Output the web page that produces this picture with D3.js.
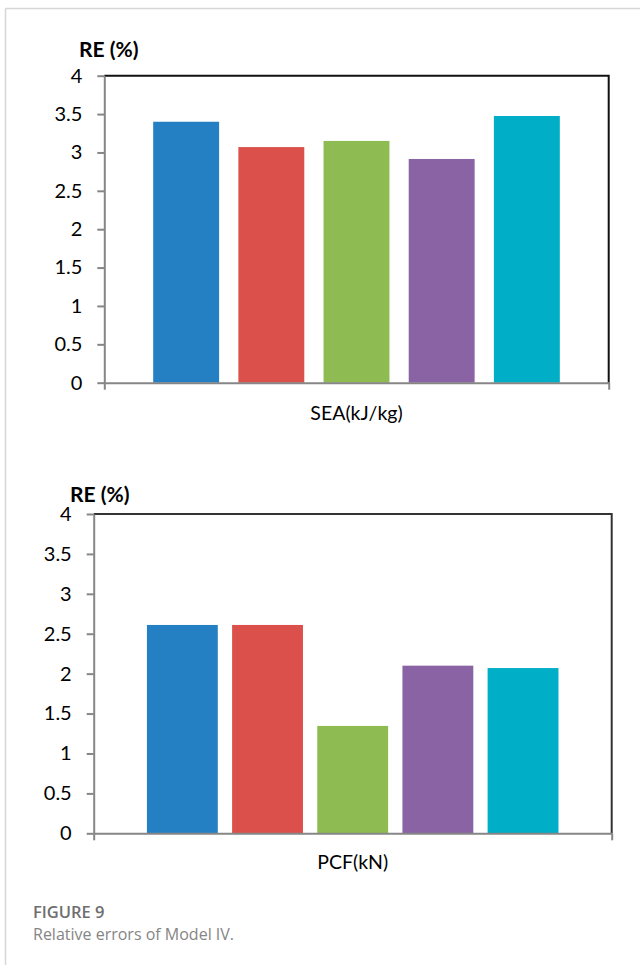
<!DOCTYPE html>
<html>
<head>
<meta charset="utf-8">
<script src="https://cdn.jsdelivr.net/npm/d3@7"></script>
<style>
  html, body { margin: 0; padding: 0; background: #fff; }
  svg { display: block; }
</style>
</head>
<body>
<svg id="chart" width="640" height="965"></svg>
<script>
// ---- data ----
const seriesNames = ["Series 1", "Series 2", "Series 3", "Series 4", "Series 5"];
const seriesColors = ["#2580C3", "#DB504A", "#8EBC52", "#8963A3", "#00AEC7"];
const seaCategory = ["SEA(kJ/kg)"];
const seaValues = [3.40, 3.07, 3.15, 2.915, 3.475];
const pcfCategory = ["PCF(kN)"];
const pcfValues = [2.61, 2.61, 1.345, 2.10, 2.07];
const yTickValues = [0, 0.5, 1, 1.5, 2, 2.5, 3, 3.5, 4];
const yTickLabels = ["0", "0.5", "1", "1.5", "2", "2.5", "3", "3.5", "4"];
const yAxisTitle = "RE (%)";
const captionTitle = "FIGURE 9";
const captionText = "Relative errors of Model IV.";

const svg = d3.select("#chart");

// page frame
svg.append("line").attr("x1", 5.5).attr("x2", 640).attr("y1", 8.5).attr("y2", 8.5)
  .attr("stroke", "#d6d6d6").attr("stroke-width", 1.5);
svg.append("line").attr("x1", 5.5).attr("x2", 5.5).attr("y1", 8.5).attr("y2", 965)
  .attr("stroke", "#d6d6d6").attr("stroke-width", 1.5);

function drawChart(cfg) {
  const g = svg.append("g");
  const y = d3.scaleLinear().domain([0, 4]).range([cfg.bottom, cfg.top]);
  const xCat = d3.scaleBand().domain(cfg.category).range([cfg.left, cfg.right]).padding(0);
  const xSeries = d3.scaleBand().domain(seriesNames)
    .range([xCat(cfg.category[0]), xCat(cfg.category[0]) + xCat.bandwidth()])
    .paddingInner(cfg.padInner).paddingOuter(cfg.padOuter);
  const color = d3.scaleOrdinal().domain(seriesNames).range(seriesColors);

  // plot area border (top & right)
  g.append("path")
    .attr("d", `M${cfg.left},${cfg.top}H${cfg.right}V${cfg.bottom}`)
    .attr("fill", "none").attr("stroke", cfg.frameColor).attr("stroke-width", 2);

  // bars
  g.selectAll("rect.bar").data(cfg.values).join("rect")
    .attr("class", "bar")
    .attr("x", (d, i) => xSeries(seriesNames[i]))
    .attr("width", xSeries.bandwidth())
    .attr("y", d => y(d))
    .attr("height", d => y(0) - y(d))
    .attr("fill", (d, i) => color(seriesNames[i]));

  // y axis
  const yAxis = d3.axisLeft(y).tickValues(yTickValues)
    .tickFormat((d, i) => yTickLabels[i]).tickSize(7).tickSizeOuter(0).tickPadding(15);
  const ya = g.append("g").attr("transform", `translate(${cfg.left},0)`).call(yAxis);
  ya.select(".domain").attr("stroke", "#868686").attr("stroke-width", 2);
  ya.selectAll(".tick line").attr("stroke", "#868686").attr("stroke-width", 2);
  ya.selectAll(".tick text").attr("fill", "#000")
    .style("font-family", "Lato, 'Open Sans', sans-serif").style("font-size", "20px");

  // x axis (category boundaries)
  const xb = d3.scaleLinear().domain([0, 1]).range([cfg.left, cfg.right]);
  const xAxis = d3.axisBottom(xb).tickValues([0, 1]).tickFormat("").tickSize(7).tickSizeOuter(0);
  const xa = g.append("g").attr("transform", `translate(0,${cfg.bottom})`).call(xAxis);
  xa.select(".domain").attr("stroke", "#868686").attr("stroke-width", 2);
  xa.selectAll(".tick line").attr("stroke", "#868686").attr("stroke-width", 2);

  // category label
  g.append("text")
    .attr("x", xCat(cfg.category[0]) + xCat.bandwidth() / 2)
    .attr("y", cfg.catLabelY)
    .attr("text-anchor", "middle")
    .style("font-family", "Lato, 'Open Sans', sans-serif").style("font-size", "19.5px")
    .text(cfg.category[0]);

  // y title
  g.append("text")
    .attr("x", cfg.titleX).attr("y", cfg.titleY)
    .style("font-family", "Lato, 'Open Sans', sans-serif").style("font-size", "21px")
    .style("font-weight", "bold")
    .text(yAxisTitle);
}

drawChart({
  category: seaCategory, values: seaValues,
  left: 104.3, right: 608.7, top: 75.7, bottom: 382.7,
  padInner: 0.226, padOuter: 0.574,
  catLabelY: 419.5, titleX: 79, titleY: 57, frameColor: "#111"
});

drawChart({
  category: pcfCategory, values: pcfValues,
  left: 93.7, right: 611.7, top: 514, bottom: 833.3,
  padInner: 0.168, padOuter: 0.625,
  catLabelY: 869, titleX: 70, titleY: 502, frameColor: "#333"
});

// caption
svg.append("text").attr("x", 33).attr("y", 918)
  .style("font-family", "'Open Sans', sans-serif").style("font-size", "16.5px")
  .style("font-weight", "600").attr("fill", "#6e6e6e")
  .text(captionTitle);
svg.append("text").attr("x", 33).attr("y", 940)
  .style("font-family", "'Open Sans', sans-serif").style("font-size", "16px")
  .attr("fill", "#858585")
  .text(captionText);
</script>
</body>
</html>
